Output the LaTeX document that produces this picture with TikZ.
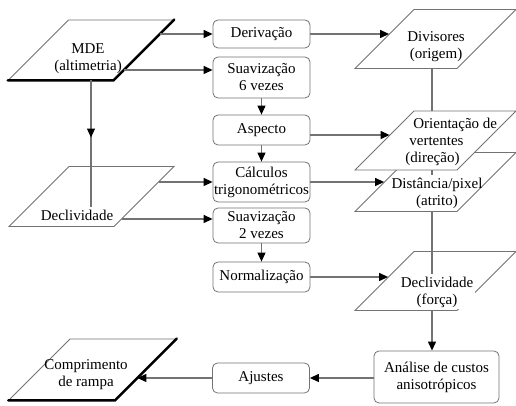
\documentclass[tikz,border=0pt]{standalone}
\usepackage{fontspec}
\setmainfont{Liberation Serif}
\usetikzlibrary{arrows.meta,calc,decorations.markings}

\tikzset{
  caixa/.style={draw=black!55, rounded corners=2.5pt, fill=white, minimum width=48.5pt, inner sep=0pt, align=center},
  dado/.style={draw=black!55, fill=white, xslant=1, transform shape,
               minimum width=51pt, minimum height=29.5pt, inner sep=0pt},
  texto/.style={align=center, inner sep=1pt, fill=white},
  fio/.style={draw=black!55, line width=0.6pt},
  seta/.style={fio, -{Triangle[length=4.5pt,width=4pt,color=black]}},
  borda/.style={line width=1.3pt, black, line cap=round}
}

\begin{document}
\begin{tikzpicture}[x=0.5pt, y=-0.5pt, font=\fontsize{7.5}{8.5}\selectfont]
  \useasboundingbox (0,0) rectangle (516,406);

  % coluna da esquerda
  \node[dado, minimum width=52.5pt, minimum height=30pt] (mde) at (91,50) {};
  \node[texto, fill=none] (mdeT) at (88,59) {MDE\\(altimetria)};
  \draw[borda] (mde.south west) -- (mde.south east) -- (mde.north east);

  \node[dado, minimum width=52.5pt, minimum height=30pt] (decl) at (91.5,196.5) {};
  \node[texto] (declT) at (77,215) {Declividade};

  \node[dado, minimum width=53pt, minimum height=30.5pt] (compr) at (92.5,369.5) {};
  \node[texto, fill=none] (comprT) at (86,375) {Comprimento\\de rampa};
  \draw[borda] (compr.south west) -- (compr.south east) -- (compr.north east);

  % coluna do meio
  \node[caixa, minimum height=14pt]   (deriv)   at (261.5,34)    {Deriva\c{c}\~ao};
  \node[caixa, minimum height=20.5pt] (suav6)   at (261.5,77.5)  {Suaviza\c{c}\~ao\\6 vezes};
  \node[caixa, minimum height=15pt]   (aspecto) at (261.5,130)   {Aspecto};
  \node[caixa, minimum height=20pt]   (calc)    at (261.5,182)   {C\'alculos\\trigonom\'etricos};
  \node[caixa, minimum height=17.5pt] (suav2)   at (261.5,225.5) {Suaviza\c{c}\~ao\\2 vezes};
  \node[caixa, minimum height=15pt]   (norm)    at (261.5,277)   {Normaliza\c{c}\~ao};
  \node[caixa, minimum height=15pt]   (ajustes) at (261,378)     {Ajustes};

  % coluna da direita
  \coordinate (eixo) at (432,0);
  \node[dado] (div) at (435.5,39) {};
  \node[texto, fill=none] (divT) at (436,47) {Divisores\\(origem)};

  \node[dado] (dist) at (435.5,182) {};
  \node[texto, fill=none] (distT) at (437,193) {Dist\^ancia/pixel\\(atrito)};

  \node[dado] (orient) at (435.5,140.5) {};
  \node[texto, fill=none, align=left, anchor=west] (orientT) at (403,141.5) {\hspace{4pt}Orienta\c{c}\~ao de\\\hspace{2pt}vertentes\\(dire\c{c}\~ao)};

  \node[dado] (forca) at (435.5,281) {};
  \node[texto] (forcaT) at (437,292) {Declividade\\(for\c{c}a)};

  \node[caixa, minimum width=62.5pt, minimum height=26pt] (analise) at (436.5,377) {An\'alise de custos\\anisotr\'opicos};

  % ligacoes
  \draw[seta] let \p1=(deriv.west), \p2=(mde.east) in (\x2+\y1-\y2,\y1) -- (\p1);
  \draw[seta] let \p1=([yshift=3.75pt]suav6.west), \p2=(mde.east) in (\x2+\y1-\y2,\y1) -- (\p1);
  \draw[fio, postaction={decorate},
        decoration={markings, mark=at position 0.45 with {\arrow{Triangle[length=4.5pt,width=4pt,color=black]}}}]
        (mde.center |- mde.south) -- (mde.center |- declT.north);
  \draw[seta] let \p1=(calc.west), \p2=(decl.east) in (\x2+\y1-\y2,\y1) -- (\p1);
  \draw[seta] let \p1=([yshift=3.25pt]suav2.west), \p2=(decl.east) in (\x2+\y1-\y2,\y1) -- (\p1);

  \draw[seta] (suav6) -- (aspecto);
  \draw[seta] (aspecto) -- (calc);
  \draw[seta] (suav2) -- (norm);

  \draw[seta] let \p1=(deriv.east), \p2=(div.west) in (\p1) -- (\x2+\y1-\y2,\y1);
  \draw[seta] let \p1=([yshift=-2.5pt]aspecto.east), \p2=(orient.west) in (\p1) -- (\x2+\y1-\y2,\y1);
  \draw[seta] let \p1=(calc.east), \p2=(dist.west) in (\p1) -- (\x2+\y1-\y2,\y1);
  \draw[seta] let \p1=(norm.east), \p2=(forca.west) in (\p1) -- (\x2+\y1-\y2,\y1);

  \draw[fio] (eixo |- div.south) -- (eixo |- orient.north);
  \draw[fio] (eixo |- orient.south) -- (eixo |- distT.north);
  \draw[fio] (eixo |- dist.south) -- (eixo |- forcaT.north);
  \draw[seta] (eixo |- forca.south) -- (eixo |- analise.north);

  \draw[seta] (analise.west |- ajustes.east) -- (ajustes.east);
  \draw[seta] let \p1=(ajustes.west), \p2=(compr.east) in (\p1) -- (\x2+\y1-\y2,\y1);
\end{tikzpicture}
\end{document}
